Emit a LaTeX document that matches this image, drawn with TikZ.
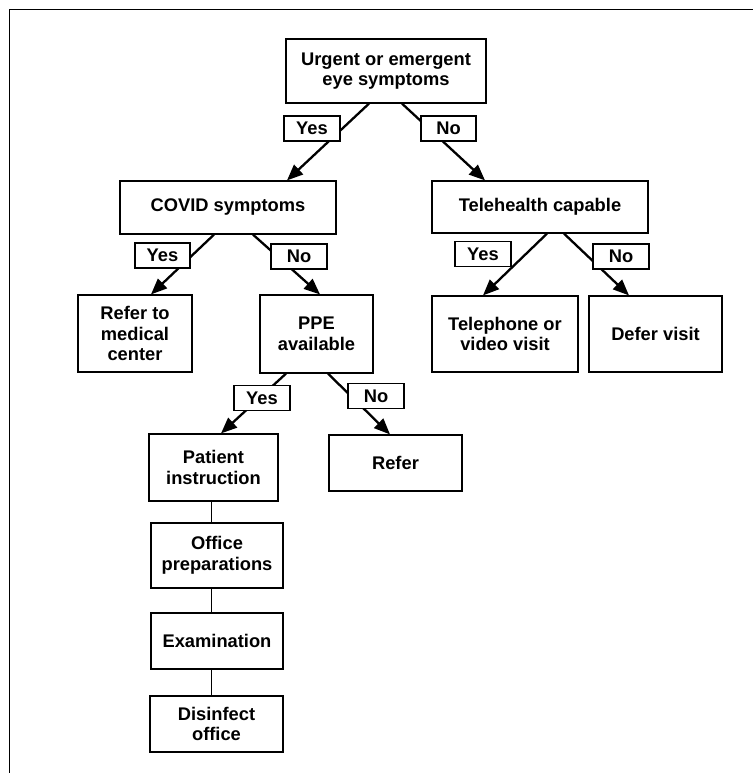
\documentclass[tikz,border=0pt]{standalone}
\usepackage{fontspec}
\setmainfont{Liberation Sans}
\usetikzlibrary{arrows.meta}
\tikzset{
  fbox/.style={draw, line width=1.2pt, fill=white, align=center, inner sep=0pt,
    font=\fontsize{18.3}{20.5}\selectfont\bfseries},
  lbl/.style={fbox, minimum height=25pt},
  conn/.style={line width=2.3pt, -{Triangle[length=16pt,width=13pt]}},
  plain/.style={line width=1pt},
}
\begin{document}
\begin{tikzpicture}[x=1pt,y=-1pt]
\useasboundingbox (0,0) rectangle (752,773);
\draw[line width=1.5pt] (9.5,780) -- (9.5,9.5) -- (760,9.5);

% boxes
\node[fbox, minimum width=200pt, minimum height=64pt] (top) at (386,71) {Urgent or emergent\\eye symptoms};
\node[fbox, minimum width=216pt, minimum height=53pt] (covid) at (228,207.5) {COVID symptoms};
\node[fbox, minimum width=216pt, minimum height=52pt] (tele) at (540,207) {Telehealth capable};
\node[fbox, minimum width=114pt, minimum height=77pt] (refmed) at (135,333.5) {Refer to\\medical\\center};
\node[fbox, minimum width=113pt, minimum height=78pt] (ppe) at (316.5,334) {PPE\\available};
\node[fbox, minimum width=146pt, minimum height=76pt] (phone) at (505,334) {Telephone or\\video visit};
\node[fbox, minimum width=133pt, minimum height=76pt] (defer) at (655.5,334) {Defer visit};
\node[fbox, minimum width=129pt, minimum height=67pt] (pat) at (213.5,467.5) {Patient\\instruction};
\node[fbox, minimum width=133pt, minimum height=56pt] (refer) at (395.5,463) {Refer};
\node[fbox, minimum width=132pt, minimum height=65pt] (office) at (217,555.5) {Office\\preparations};
\node[fbox, minimum width=132pt, minimum height=56pt] (exam) at (217,641) {Examination};
\node[fbox, minimum width=133pt, minimum height=56pt] (disinf) at (216.5,724) {Disinfect\\office};

% connectors
\draw[conn] ([xshift=-17pt]top.south) -- ([xshift=59pt]covid.north);
\draw[conn] ([xshift=16pt]top.south) -- ([xshift=-55pt]tele.north);
\draw[conn] ([xshift=-14pt]covid.south) -- ([xshift=16pt]refmed.north);
\draw[conn] ([xshift=25pt]covid.south) -- ([xshift=3.5pt]ppe.north);
\draw[conn] ([xshift=-30.5pt]ppe.south) -- ([xshift=7.5pt]pat.north);
\draw[conn] ([xshift=11.5pt]ppe.south) -- ([xshift=-5.5pt]refer.north);
\draw[conn] ([xshift=7pt]tele.south) -- ([xshift=-22pt]phone.north);
\draw[conn] ([xshift=24pt]tele.south) -- ([xshift=-26.5pt]defer.north);

\draw[plain] ([xshift=-2pt]pat.south) -- ([xshift=-2pt]pat.south |- office.north);
\draw[plain] ([xshift=-5.5pt]office.south) -- ([xshift=-5.5pt]office.south |- exam.north);
\draw[plain] ([xshift=-5.5pt]exam.south) -- ([xshift=-5.5pt]exam.south |- disinf.north);

% labels
\node[lbl, minimum width=56pt] (y1) at (312,128.5) {Yes};
\node[lbl, minimum width=55pt] (n1) at (448.5,128.5) {No};
\node[lbl, minimum width=55pt] (y2) at (162.5,255.5) {Yes};
\node[lbl, minimum width=56pt] (n2) at (299,256.5) {No};
\node[lbl, minimum width=56pt] (y3) at (262,398) {Yes};
\node[lbl, minimum width=56pt] (n3) at (376,396) {No};
\node[lbl, minimum width=56pt] (y4) at (483,254) {Yes};
\node[lbl, minimum width=56pt] (n4) at (621,256.5) {No};
\end{tikzpicture}
\end{document}
